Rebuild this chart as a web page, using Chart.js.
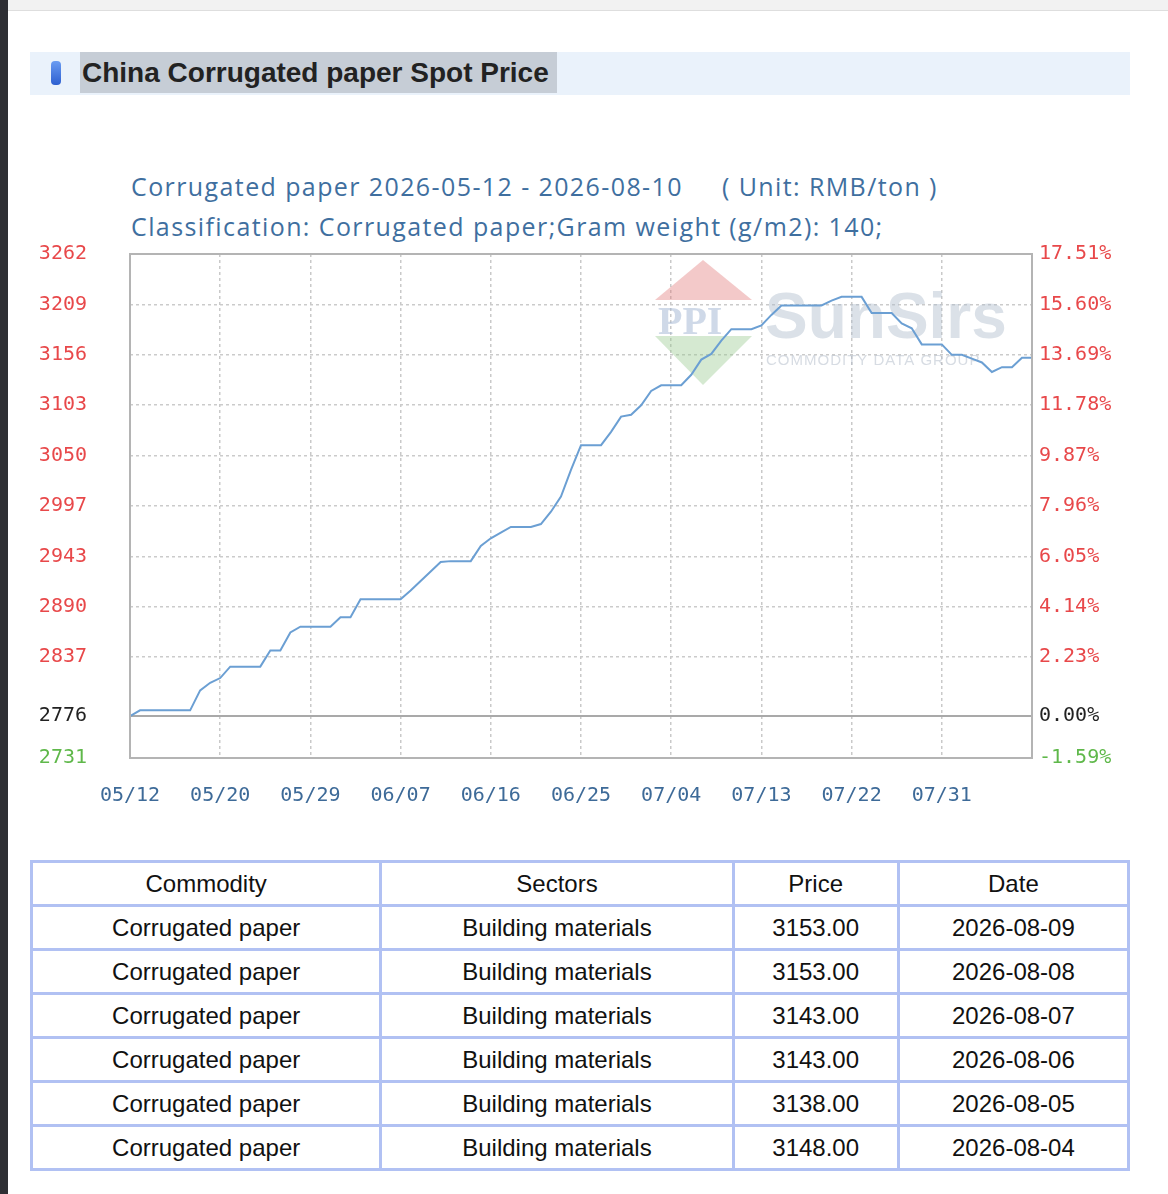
<!DOCTYPE html>
<html>
<head>
<meta charset="utf-8">
<title>China Corrugated paper Spot Price</title>
<script src="https://cdn.jsdelivr.net/npm/chart.js@4.4.1/dist/chart.umd.min.js"></script>
<style>
  html, body { margin: 0; padding: 0; background: #fff; }
  body { width: 1168px; height: 1194px; position: relative; overflow: hidden; font-family: "Liberation Sans", Arial, sans-serif; }
  .sidebar { position: absolute; left: 0; top: 0; width: 8px; height: 1194px; background: #2e2f34; }
  .topbar { position: absolute; left: 8px; top: 0; right: 0; height: 10px; background: #f2f2f2; border-bottom: 1px solid #dedede; }
  .head { position: absolute; left: 30px; top: 52px; width: 1100px; height: 43px; background: #eaf2fb; }
  .head .pill { position: absolute; left: 21px; top: 9px; width: 10px; height: 24px; border-radius: 4px; background: linear-gradient(#6a9cf2, #2d5fd0); }
  .head .ttl { position: absolute; left: 50px; top: 0; height: 41px; line-height: 41px; padding: 0 8px 0 2px; background: #c6cdd6; font-weight: bold; font-size: 28px; color: #222; }
  .sub { position: absolute; color: #3f6f9f; font-family: "Open Sans", sans-serif; font-size: 25px; letter-spacing: 1.4px; white-space: pre; line-height: 30px; }
  #wrap { position: absolute; left: 30px; top: 199px; width: 1100px; height: 621px; }
  table { position: absolute; left: 30px; top: 860px; width: 1100px; border-collapse: collapse; font-size: 24px; table-layout: fixed; }
  tr { height: 44px; }
  td, th { border: 3px solid #b1c1f3; text-align: center; font-weight: normal; color: #111; padding: 0; }
</style>
</head>
<body>
<div class="sidebar"></div>
<div class="topbar"></div>
<div class="head"><div class="pill"></div><div class="ttl">China Corrugated paper Spot Price</div></div>
<div class="sub" style="left:131px; top:171px;">Corrugated paper 2026-05-12 - 2026-08-10</div>
<div class="sub" style="left:722px; top:171px;">( Unit: RMB/ton )</div>
<div class="sub" style="left:131px; top:211px;">Classification: Corrugated paper;Gram weight (g/m2): 140;</div>
<div id="wrap"><canvas id="grafico"></canvas></div>
<table id="tabla">
  <colgroup><col style="width:349px"><col style="width:352px"><col style="width:165px"><col style="width:230px"></colgroup>
  <thead><tr><th>Commodity</th><th>Sectors</th><th>Price</th><th>Date</th></tr></thead>
  <tbody></tbody>
</table>
<script>
// daily spot price, 2026-05-12 .. 2026-08-09 (RMB/ton)
const prices = [
  2776, 2782, 2782, 2782, 2782, 2782, 2782, 2803, 2811, 2816,
  2828, 2828, 2828, 2828, 2845, 2845, 2864, 2870, 2870, 2870,
  2870, 2880, 2880, 2899, 2899, 2899, 2899, 2899, 2908, 2918,
  2928, 2938, 2939, 2939, 2939, 2955, 2963, 2969, 2975, 2975,
  2975, 2978, 2991, 3007, 3035, 3061, 3061, 3061, 3075, 3091,
  3093, 3103, 3118, 3124, 3124, 3124, 3135, 3151, 3157, 3171,
  3183, 3183, 3183, 3187, 3198, 3208, 3208, 3208, 3208, 3208,
  3213, 3217, 3217, 3217, 3200, 3200, 3200, 3189, 3184, 3167,
  3167, 3167, 3156, 3156, 3152, 3148, 3138, 3143, 3143, 3153,
  3153
];
const basePrice = 2776;

const xTickIndex = [0, 9, 18, 27, 36, 45, 54, 63, 72, 81];
const xTickLabels = ["05/12", "05/20", "05/29", "06/07", "06/16", "06/25", "07/04", "07/13", "07/22", "07/31"];

const yTickValues = [2731.9, 2776, 2837.9, 2890.9, 2943.9, 2996.97, 3049.99, 3103.0, 3156.04, 3209.06, 3262.08];
const yTickLabels = ["2731", "2776", "2837", "2890", "2943", "2997", "3050", "3103", "3156", "3209", "3262"];
const pctTickLabels = ["-1.59%", "0.00%", "2.23%", "4.14%", "6.05%", "7.96%", "9.87%", "11.78%", "13.69%", "15.60%", "17.51%"];

// tabla inferior
const tablaCommodity = "Corrugated paper";
const tablaSector = "Building materials";
const tablaPrecios = ["3153.00", "3153.00", "3143.00", "3143.00", "3138.00", "3148.00"];
const tablaFechas = ["2026-08-09", "2026-08-08", "2026-08-07", "2026-08-06", "2026-08-05", "2026-08-04"];

const tbody = document.querySelector("#tabla tbody");
tablaFechas.forEach((f, i) => {
    const tr = document.createElement("tr");
    [tablaCommodity, tablaSector, tablaPrecios[i], f].forEach(t => {
        const td = document.createElement("td");
        td.textContent = t;
        tr.appendChild(td);
    });
    tbody.appendChild(tr);
});

const tickColor = ctx => ctx.index === 0 ? "#5fb84a" : (ctx.index === 1 ? "#222222" : "#e8484a");
const monoFont = { family: "DejaVu Sans Mono", size: 20 };

// marco y marca de agua
const marco = {
    id: "marco",
    beforeDatasetsDraw(chart) {
        const { ctx, chartArea: a } = chart;
        const L = a.left, T = a.top;
        ctx.save();
        ctx.fillStyle = "rgba(226,120,120,0.4)";
        ctx.beginPath();
        ctx.moveTo(L + 573, T + 6); ctx.lineTo(L + 622, T + 46); ctx.lineTo(L + 525, T + 46);
        ctx.closePath(); ctx.fill();
        ctx.fillStyle = "rgba(150,200,140,0.4)";
        ctx.beginPath();
        ctx.moveTo(L + 525, T + 82); ctx.lineTo(L + 622, T + 82); ctx.lineTo(L + 573, T + 131);
        ctx.closePath(); ctx.fill();
        ctx.fillStyle = "rgba(160,180,210,0.5)";
        ctx.font = "bold 40px 'Liberation Serif'";
        ctx.textBaseline = "alphabetic";
        ctx.fillText("PPI", L + 528, T + 80);
        ctx.fillStyle = "rgba(175,188,205,0.45)";
        ctx.font = "bold 64px 'Liberation Sans'";
        ctx.fillText("SunSirs", L + 635, T + 84);
        ctx.fillStyle = "rgba(175,185,200,0.5)";
        ctx.font = "15px 'Liberation Sans'";
        ctx.letterSpacing = "1px";
        ctx.fillText("COMMODITY DATA GROUP", L + 636, T + 111);
        ctx.restore();
    },
    afterDatasetsDraw(chart) {
        const { ctx, chartArea: a } = chart;
        ctx.save();
        ctx.strokeStyle = "#b4b4b4";
        ctx.lineWidth = 2;
        ctx.strokeRect(a.left, a.top, a.right - a.left, a.bottom - a.top);
        ctx.restore();
    }
};

const ctxG = document.getElementById("grafico").getContext("2d");
new Chart(ctxG, {
    type: "line",
    data: {
        datasets: [{
            label: "Corrugated paper",
            data: prices.map((p, i) => ({ x: i, y: p })),
            borderColor: "#6b9fd3",
            borderWidth: 2,
            pointRadius: 0,
            tension: 0,
            yAxisID: "y"
        }]
    },
    options: {
        responsive: true,
        maintainAspectRatio: false,
        animation: false,
        layout: { padding: { top: 14 } },
        plugins: {
            legend: { display: false },
            tooltip: { enabled: false }
        },
        scales: {
            x: {
                type: "linear",
                min: 0,
                max: prices.length - 1,
                afterBuildTicks: s => { s.ticks = xTickIndex.map(v => ({ value: v })); },
                afterFit: s => { s.height = 62; },
                ticks: {
                    callback: (v, i) => xTickLabels[i],
                    color: "#3d6a98",
                    font: monoFont,
                    padding: 26,
                    maxRotation: 0,
                    autoSkip: false
                },
                grid: { color: "#c9c9c9", lineWidth: 1.5, drawTicks: false },
                border: { display: false, dash: [3, 3] }
            },
            y: {
                position: "left",
                min: yTickValues[0],
                max: yTickValues[yTickValues.length - 1],
                afterBuildTicks: s => { s.ticks = yTickValues.map(v => ({ value: v })); },
                afterFit: s => { s.width = 100; },
                ticks: {
                    callback: (v, i) => yTickLabels[i],
                    color: tickColor,
                    font: monoFont,
                    padding: 43
                },
                grid: {
                    color: ctx => (ctx.tick && ctx.tick.value === basePrice) ? "#a9a9a9" : "#cbcbcb",
                    lineWidth: ctx => (ctx.tick && ctx.tick.value === basePrice) ? 2 : 1.5,
                    drawTicks: false
                },
                border: { display: false, dash: ctx => (ctx.tick && ctx.tick.value === basePrice) ? [] : [3, 3] }
            },
            y2: {
                position: "right",
                min: yTickValues[0],
                max: yTickValues[yTickValues.length - 1],
                afterBuildTicks: s => { s.ticks = yTickValues.map(v => ({ value: v })); },
                afterFit: s => { s.width = 98; },
                ticks: {
                    callback: (v, i) => pctTickLabels[i],
                    color: tickColor,
                    font: monoFont,
                    padding: 7
                },
                grid: { drawOnChartArea: false, drawTicks: false },
                border: { display: false }
            }
        }
    },
    plugins: [marco]
});
</script>
</body>
</html>
